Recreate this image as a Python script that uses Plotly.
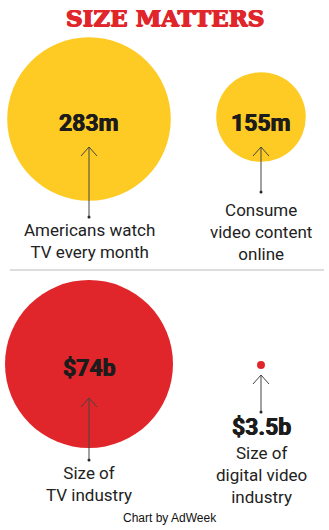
import plotly.graph_objects as go

# ---- data ----
values_audience = [283, 155]          # millions
labels_audience = ["283m", "155m"]
desc_audience = ["Americans watch<br>TV every month", "Consume<br>video content<br>online"]

values_industry = [74, 3.5]           # billions $
labels_industry = ["$74b", "$3.5b"]
desc_industry = ["Size of<br>TV industry", "Size of<br>digital video<br>industry"]

title_text = "SIZE MATTERS"
credit_text = "Chart by AdWeek"

# ---- style / layout ----
YELLOW = "#FDCB23"
RED = "#E0262A"
INK = "#1c1c1c"
W, H = 329, 530
col_x = [89, 261]
row_y = [119, 364]
scale_top = 0.578     # px diameter per million
scale_bot = 2.27      # px diameter per billion

fig = go.Figure()

# circles
fig.add_trace(go.Scatter(
    x=col_x, y=[row_y[0], 117],
    mode="markers",
    marker=dict(size=[v * scale_top for v in values_audience], color=YELLOW, line=dict(width=0), opacity=1),
    hoverinfo="skip", showlegend=False))
fig.add_trace(go.Scatter(
    x=col_x, y=[row_y[1], 365],
    mode="markers",
    marker=dict(size=[v * scale_bot for v in values_industry], color=RED, line=dict(width=0), opacity=1),
    hoverinfo="skip", showlegend=False))

# arrows: (x, tip_y, bottom_y)
arrows = [(89, 147, 217), (261, 147, 192), (89, 398, 460), (261, 375, 412)]
shapes = []
for x, ty, by in arrows:
    shapes.append(dict(type="line", xref="x", yref="y", x0=x, x1=x, y0=ty, y1=by,
                       line=dict(color="#444444", width=1)))
    shapes.append(dict(type="path", xref="x", yref="y",
                       path=f"M {x-8} {ty+9} L {x} {ty} L {x+8} {ty+9}",
                       line=dict(color="#444444", width=1)))
fig.add_trace(go.Scatter(
    x=[a[0] for a in arrows], y=[a[2] for a in arrows], mode="markers",
    marker=dict(size=3, color="#222222"), hoverinfo="skip", showlegend=False))

# divider
shapes.append(dict(type="line", xref="x", yref="y", x0=10, x1=324, y0=270, y1=270,
                   line=dict(color="#bbbbbb", width=1)))

annotations = []
num_font = dict(family="Roboto", size=23, color=INK, weight="bold",
                shadow=f"0.4px 0 0 {INK}, -0.4px 0 0 {INK}")
lab_font = dict(family="Roboto", size=17, color="#222222")

annotations.append(dict(x=W / 2, y=17, text=title_text, showarrow=False,
                        font=dict(family="DejaVu Serif", size=23, color=RED, weight="bold",
                                  shadow=f"0.7px 0 0 {RED}, -0.7px 0 0 {RED}, 0 0.5px 0 {RED}"),
                        xanchor="center", yanchor="middle"))
# numbers
annotations.append(dict(x=col_x[0], y=123, text=labels_audience[0], showarrow=False, font=num_font))
annotations.append(dict(x=col_x[1], y=123, text=labels_audience[1], showarrow=False, font=num_font))
annotations.append(dict(x=col_x[0], y=368, text=labels_industry[0], showarrow=False, font=num_font))
annotations.append(dict(x=col_x[1], y=427, text=labels_industry[1], showarrow=False, font=num_font))
# descriptions
annotations.append(dict(x=col_x[0], y=241, text=desc_audience[0], showarrow=False, font=lab_font))
annotations.append(dict(x=col_x[1], y=232, text=desc_audience[1], showarrow=False, font=lab_font))
annotations.append(dict(x=col_x[0], y=484, text=desc_industry[0], showarrow=False, font=lab_font))
annotations.append(dict(x=col_x[1], y=475, text=desc_industry[1], showarrow=False, font=lab_font))
# credit
annotations.append(dict(x=170, y=518, text=credit_text, showarrow=False,
                        font=dict(family="Liberation Sans", size=12, color="#111111")))

for a in annotations:
    a.setdefault("xref", "x")
    a.setdefault("yref", "y")
    a.setdefault("xanchor", "center")
    a.setdefault("yanchor", "middle")

fig.update_layout(
    width=W, height=H,
    margin=dict(l=0, r=0, t=0, b=0),
    paper_bgcolor="white", plot_bgcolor="white",
    xaxis=dict(range=[0, W], visible=False, fixedrange=True),
    yaxis=dict(range=[H, 0], visible=False, fixedrange=True),
    shapes=shapes, annotations=annotations,
    showlegend=False,
)

fig.write_html("out.html", config={"displayModeBar": False})
